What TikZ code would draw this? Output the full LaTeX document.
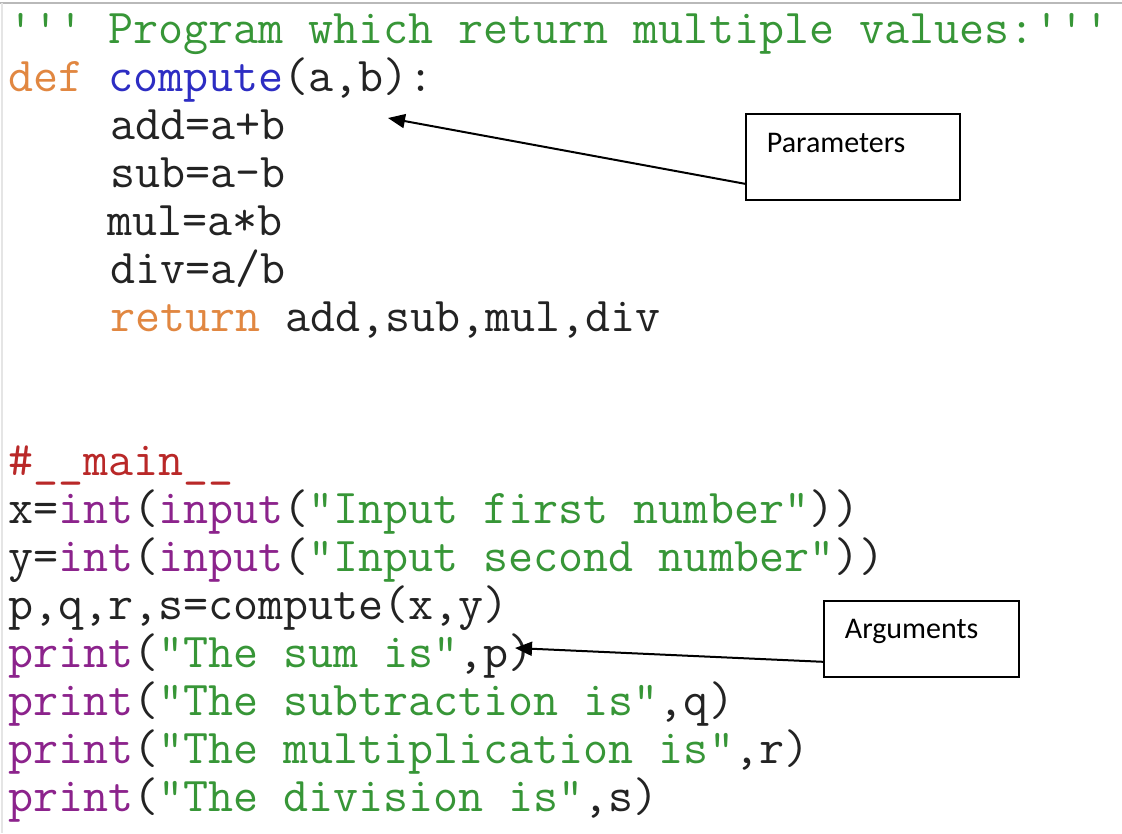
\documentclass[tikz,border=0pt]{standalone}
\usepackage{xcolor}
\usepackage{fontspec}
\usepackage{tikz}
\usetikzlibrary{arrows.meta}

\newfontfamily\notefont{Carlito}

\definecolor{codetext}{RGB}{35,35,35}
\definecolor{strgreen}{RGB}{55,150,55}
\definecolor{kworange}{RGB}{225,135,65}
\definecolor{fnblue}{RGB}{45,45,195}
\definecolor{bipurple}{RGB}{140,35,140}
\definecolor{cmtred}{RGB}{185,40,40}

\newcommand\sq{\char"27\relax}

\begin{document}
\begin{tikzpicture}[
  x=1pt, y=-1pt,
  codeline/.style={anchor=base west, inner sep=0pt, text=codetext, font=\ttfamily\fontsize{48.6}{48}\selectfont},
  note/.style={draw, line width=1.8pt, anchor=north west, inner xsep=21pt, inner ysep=0pt, align=left, font=\notefont\fontsize{30}{34}\selectfont},
  arr/.style={-{Triangle[length=17pt,width=14pt]}, line width=2pt}
]
\useasboundingbox (0,0) rectangle (1122,833);
\fill[white] (0,0) rectangle (1122,833);
\draw[gray!55, line width=2pt] (0,3) -- (1122,3);
\draw[gray!20, line width=1.5pt] (2,3) -- (2,833);

\node[codeline] (doc) at (8,43) {\textcolor{strgreen}{\sq\sq\sq\ Program which return multiple values:\sq\sq\sq}};
\node[codeline] (defline) at (8,91) {\textcolor{kworange}{def} \textcolor{fnblue}{compute}(a,b):};
\node[codeline] (addline) at (110,139) {add=a+b};
\node[codeline] (subline) at (110,187) {sub=a-b};
\node[codeline] (mulline) at (107,235) {mul=a*b};
\node[codeline] (divline) at (110,283) {div=a/b};
\node[codeline] (retline) at (110,331) {\textcolor{kworange}{return} add,sub,mul,div};
\node[codeline] (mainline) at (8,475) {\textcolor{cmtred}{\#\_\_main\_\_}};
\node[codeline] (xline) at (8,523) {x=\textcolor{bipurple}{int}(\textcolor{bipurple}{input}(\textcolor{strgreen}{"Input first number"}))};
\node[codeline] (yline) at (8,571) {y=\textcolor{bipurple}{int}(\textcolor{bipurple}{input}(\textcolor{strgreen}{"Input second number"}))};
\node[codeline] (callline) at (8,619) {p,q,r,s=compute(x,y)};
\node[codeline] (sumline) at (8,667) {\textcolor{bipurple}{print}(\textcolor{strgreen}{"The sum is"},p)};
\node[codeline] (diffline) at (8,715) {\textcolor{bipurple}{print}(\textcolor{strgreen}{"The subtraction is"},q)};
\node[codeline] (prodline) at (8,763) {\textcolor{bipurple}{print}(\textcolor{strgreen}{"The multiplication is"},r)};
\node[codeline] (quotline) at (8,811) {\textcolor{bipurple}{print}(\textcolor{strgreen}{"The division is"},s)};

\node[note, text width=172pt, text height=39pt, text depth=47pt] (params) at (745,113) {Parameters};
\node[note, text width=153pt, text height=38pt, text depth=38pt] (args) at (823,600) {Arguments};

\coordinate (paramtip) at (388,118);
\coordinate (argtip) at (515,648);
\draw[arr] ([yshift=17pt]params.south west) -- (paramtip);
\draw[arr] ([yshift=16pt]args.south west) -- (argtip);
\end{tikzpicture}
\end{document}
